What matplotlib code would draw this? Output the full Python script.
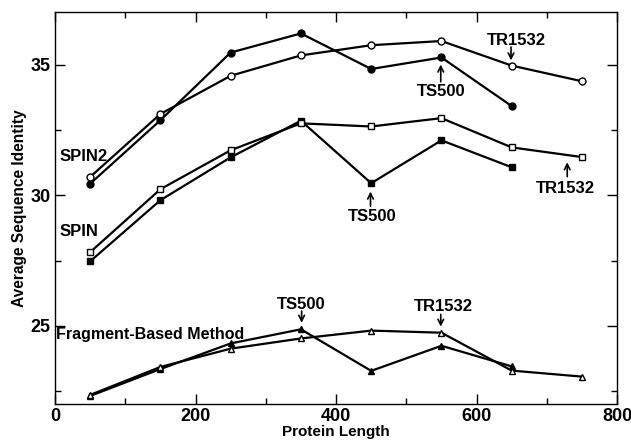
import matplotlib
matplotlib.use("Agg")
import matplotlib.pyplot as plt
from matplotlib.ticker import MultipleLocator

plt.rcParams['font.family'] = ['Liberation Sans', 'DejaVu Sans']
plt.rcParams['font.weight'] = 'bold'

# protein length bins
x_main = [50, 150, 250, 350, 450, 550, 650, 750]

# SPIN2
spin2_ts500 = [30.44, 32.87, 35.46, 36.19, 34.83, 35.27, 33.41]
spin2_tr1532 = [30.70, 33.11, 34.57, 35.35, 35.74, 35.90, 34.96, 34.36]

# SPIN
spin_ts500 = [27.47, 29.81, 31.45, 32.85, 30.46, 32.10, 31.07]
spin_tr1532 = [27.82, 30.23, 31.72, 32.75, 32.63, 32.95, 31.83, 31.46]

# fragment-based method
frag_ts500 = [22.32, 23.35, 24.33, 24.87, 23.28, 24.24, 23.45]
frag_tr1532 = [22.36, 23.43, 24.13, 24.52, 24.82, 24.74, 23.29, 23.06]

fig = plt.figure(figsize=(6.31, 4.40), dpi=100)
ax = fig.add_axes([0.0872, 0.0811, 0.8908, 0.891])

lw = 1.6
ms = 5
ax.plot(x_main[:7], spin2_ts500, '-o', color='black', lw=lw, ms=ms, mfc='black')
ax.plot(x_main, spin2_tr1532, '-o', color='black', lw=lw, ms=ms, mfc='white', mew=1.0)
ax.plot(x_main[:7], spin_ts500, '-s', color='black', lw=lw, ms=4, mfc='black')
ax.plot(x_main, spin_tr1532, '-s', color='black', lw=lw, ms=4.5, mfc='white', mew=1.0)
ax.plot(x_main[:7], frag_ts500, '-^', color='black', lw=lw, ms=ms, mfc='black')
ax.plot(x_main, frag_tr1532, '-^', color='black', lw=lw, ms=ms, mfc='white', mew=1.0)

fs = 12
ax.text(7, 31.48, 'SPIN2', fontsize=fs, fontweight='bold', va='center', ha='left')
ax.text(7, 28.62, 'SPIN', fontsize=fs, fontweight='bold', va='center', ha='left')
ax.text(2, 24.68, 'Fragment-Based Method', fontsize=11.5, fontweight='bold', va='center', ha='left')

arrow = dict(arrowstyle='->', color='black', lw=1.2, shrinkA=0, shrinkB=0)
notes = [
    ('TS500', 549, 33.98, 549, 35.00, 549, 34.34),
    ('TR1532', 657, 35.93, 649, 35.16, 649, 35.67),
    ('TS500', 452, 29.19, 449, 30.14, 449, 29.58),
    ('TR1532', 726, 30.26, 729, 31.26, 729, 30.71),
    ('TS500', 351, 25.82, 351, 25.12, 351, 25.57),
    ('TR1532', 553, 25.75, 549, 24.97, 549, 25.44),
]
for label, tx, ty, ax_, ay_, bx, by in notes:
    ax.text(tx, ty, label, fontsize=fs, fontweight='bold', ha='center', va='center')
    ax.annotate('', xy=(ax_, ay_), xytext=(bx, by), arrowprops=arrow)

ax.set_xlim(0, 800)
ax.set_ylim(22, 37)
ax.xaxis.set_major_locator(MultipleLocator(200))
ax.xaxis.set_minor_locator(MultipleLocator(100))
ax.yaxis.set_major_locator(MultipleLocator(5))
ax.yaxis.set_minor_locator(MultipleLocator(2.5))
ax.tick_params(which='both', direction='in', top=True, right=True, width=1, labelsize=13)
ax.tick_params(which='major', length=7, pad=3)
ax.tick_params(which='minor', length=4)
for lab in ax.get_xticklabels() + ax.get_yticklabels():
    lab.set_fontweight('bold')
for s in ax.spines.values():
    s.set_linewidth(1)

ax.set_xlabel('Protein Length', fontsize=11, fontweight='bold', labelpad=0)
ax.set_ylabel('Average Sequence Identity', fontsize=11.2, fontweight='bold', labelpad=3)

fig.savefig('out.png', dpi=100)
